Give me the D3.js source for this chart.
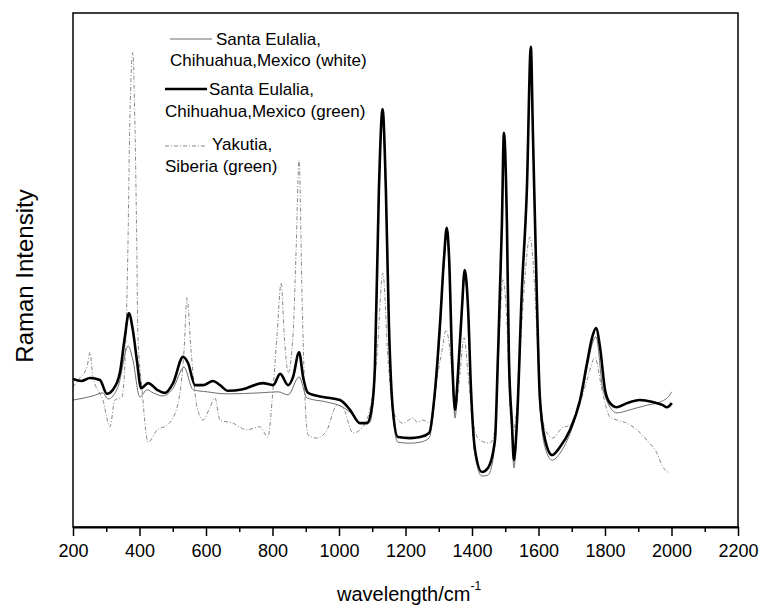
<!DOCTYPE html>
<html>
<head>
<meta charset="utf-8">
<script src="https://cdn.jsdelivr.net/npm/d3@7"></script>
<style>
  body { margin: 0; background: #fff; }
  text { font-family: Arial, "Liberation Sans", sans-serif; fill: #000; }
</style>
</head>
<body>
<div id="wrapper"></div>
<script>
// wavenumber (cm-1), Raman intensity (arbitrary units)
const whiteSpectrum = [
  [200, 247], [260, 255], [290, 261], [305, 249], [335, 272], [366, 352], [380, 325],
  [401, 253], [423, 267], [441, 261], [471, 255], [501, 270], [534, 311], [561, 267],
  [603, 263], [663, 259], [762, 261], [817, 263], [847, 257], [880, 292], [904, 251],
  [964, 243], [1012, 233], [1042, 218], [1063, 202], [1093, 204], [1108, 305],
  [1120, 640], [1131, 803], [1141, 640], [1150, 383], [1162, 218], [1177, 165],
  [1214, 163], [1244, 165], [1271, 173], [1289, 257], [1304, 383], [1316, 516],
  [1324, 570], [1331, 516], [1340, 321], [1349, 212], [1358, 290], [1370, 418],
  [1378, 488], [1388, 418], [1397, 257], [1409, 140], [1430, 99], [1448, 101],
  [1469, 160], [1478, 321], [1490, 578], [1496, 753], [1505, 578], [1511, 321],
  [1520, 193], [1526, 115], [1535, 193], [1550, 451], [1565, 646], [1577, 922],
  [1583, 763], [1595, 438], [1604, 243], [1620, 154], [1641, 130], [1665, 144],
  [1699, 189], [1728, 253], [1773, 370], [1794, 267], [1836, 222], [1875, 228],
  [1926, 237], [1965, 243], [1995, 257], [2000, 263]
]

const greenSpectrum = [
  [200, 288], [225, 284], [251, 290], [281, 286], [302, 259], [320, 267], [341, 300],
  [356, 370], [368, 416], [380, 383], [392, 325], [405, 270], [426, 280], [453, 267],
  [477, 261], [501, 280], [531, 331], [546, 319], [567, 276], [591, 276], [621, 284],
  [642, 276], [666, 265], [711, 268], [771, 280], [802, 276], [823, 298], [847, 276],
  [862, 292], [880, 340], [892, 292], [907, 261], [952, 253], [1003, 247], [1033, 228],
  [1063, 202], [1084, 202], [1099, 233], [1108, 311], [1120, 656], [1131, 813],
  [1141, 656], [1150, 397], [1162, 228], [1177, 175], [1214, 173], [1244, 175],
  [1271, 183], [1289, 267], [1304, 397], [1316, 525], [1324, 582], [1331, 525],
  [1340, 331], [1349, 228], [1358, 300], [1370, 428], [1378, 500], [1388, 428],
  [1397, 267], [1409, 150], [1430, 107], [1448, 115], [1469, 169], [1478, 331],
  [1490, 591], [1496, 767], [1505, 591], [1511, 331], [1520, 202], [1526, 130],
  [1535, 202], [1550, 461], [1565, 656], [1577, 934], [1583, 772], [1595, 447],
  [1604, 253], [1620, 169], [1641, 140], [1665, 156], [1695, 189], [1725, 247],
  [1746, 319], [1761, 368], [1773, 387], [1785, 350], [1800, 267], [1815, 241],
  [1836, 233], [1866, 241], [1905, 247], [1944, 243], [1974, 237], [1986, 233],
  [2001, 241]
]

const yakutiaSpectrum = [
  [200, 272], [215, 286], [242, 311], [251, 340], [260, 292], [290, 247], [311, 195],
  [326, 247], [347, 253], [359, 364], [365, 539], [371, 792], [380, 924], [386, 792],
  [392, 539], [395, 377], [407, 272], [426, 165], [453, 189], [483, 198], [513, 233],
  [534, 344], [543, 446], [555, 344], [573, 233], [591, 208], [612, 233], [627, 251],
  [642, 208], [681, 202], [723, 189], [762, 195], [786, 175], [802, 272], [814, 377],
  [826, 475], [835, 377], [847, 300], [862, 377], [871, 539], [880, 714], [889, 442],
  [898, 247], [907, 179], [934, 173], [964, 189], [994, 237], [1012, 232], [1042, 183],
  [1072, 195], [1102, 261], [1114, 331], [1132, 494], [1147, 331], [1162, 228],
  [1174, 212], [1192, 202], [1223, 212], [1235, 204], [1253, 208], [1274, 202],
  [1289, 267], [1310, 344], [1322, 383], [1340, 300], [1349, 222], [1364, 300],
  [1376, 368], [1388, 300], [1403, 202], [1424, 169], [1454, 163], [1469, 189],
  [1484, 397], [1493, 481], [1505, 397], [1514, 233], [1523, 183], [1535, 233],
  [1553, 428], [1574, 564], [1589, 461], [1597, 350], [1604, 250], [1625, 183],
  [1643, 173], [1671, 193], [1695, 198], [1716, 222], [1746, 286], [1770, 329],
  [1791, 267], [1815, 214], [1836, 208], [1866, 202], [1896, 189], [1926, 169],
  [1956, 144], [1974, 117], [1995, 105]
]

const xTicks = [200, 400, 600, 800, 1000, 1200, 1400, 1600, 1800, 2000, 2200]
const xMinorTicks = [300, 500, 700, 900, 1100, 1300, 1500, 1700, 1900, 2100]

const legendItems = [
  { lines: ["Santa Eulalia,", "Chihuahua,Mexico (white)"], data: whiteSpectrum },
  { lines: ["Santa Eulalia,", "Chihuahua,Mexico (green)"], data: greenSpectrum },
  { lines: ["Yakutia,", "Siberia (green)"], data: yakutiaSpectrum }
]

// dimensions
let dimensions = {
  width: 759,
  height: 606,
  margin: { top: 13, right: 21, bottom: 79, left: 73 }
}
dimensions.boundedWidth = dimensions.width - dimensions.margin.left - dimensions.margin.right
dimensions.boundedHeight = dimensions.height - dimensions.margin.top - dimensions.margin.bottom

const wrapper = d3.select("#wrapper")
  .append("svg")
  .attr("width", dimensions.width)
  .attr("height", dimensions.height)

const bounds = wrapper.append("g")
  .attr("transform", `translate(${dimensions.margin.left},${dimensions.margin.top})`)

// scales
const xScale = d3.scaleLinear()
  .domain([200, 2200])
  .range([0, dimensions.boundedWidth])

const yScale = d3.scaleLinear()
  .domain([0, 1000])
  .range([dimensions.boundedHeight, 0])

bounds.append("clipPath").attr("id", "clip")
  .append("rect")
  .attr("width", dimensions.boundedWidth)
  .attr("height", dimensions.boundedHeight)

const lineGenerator = d3.line()
  .x(d => xScale(d[0]))
  .y(d => yScale(d[1]))
  .curve(d3.curveMonotoneX)

const styles = [
  { stroke: "#6e6e6e", width: 1, dash: null },
  { stroke: "#000", width: 2.6, dash: null },
  { stroke: "#888", width: 1, dash: "4,2,1,2" }
]

const lines = bounds.append("g").attr("clip-path", "url(#clip)")
// draw thin ones under the thick one
;[2, 0, 1].forEach(i => {
  lines.append("path")
    .attr("d", lineGenerator(legendItems[i].data))
    .attr("fill", "none")
    .attr("stroke", styles[i].stroke)
    .attr("stroke-width", styles[i].width)
    .attr("stroke-dasharray", styles[i].dash)
    .attr("stroke-linejoin", "round")
})

// frame
bounds.append("rect")
  .attr("width", dimensions.boundedWidth)
  .attr("height", dimensions.boundedHeight)
  .attr("fill", "none")
  .attr("stroke", "#000")
  .attr("stroke-width", 1.5)

// x axis
const xAxisGen = d3.axisBottom(xScale)
  .tickValues(xTicks)
  .tickFormat(d3.format("d"))
  .tickSize(9)
  .tickSizeOuter(0)
  .tickPadding(8)

const xAxis = bounds.append("g")
  .attr("transform", `translate(0,${dimensions.boundedHeight})`)
  .call(xAxisGen)
xAxis.select(".domain").attr("stroke-width", 2.2)
xAxis.selectAll(".tick line").attr("stroke-width", 1.5)
xAxis.selectAll(".tick text")
  .attr("font-size", 18)
  .attr("font-family", "Arial, 'Liberation Sans', sans-serif")

const xMinorAxis = bounds.append("g")
  .attr("transform", `translate(0,${dimensions.boundedHeight})`)
  .call(d3.axisBottom(xScale).tickValues(xMinorTicks).tickFormat("").tickSize(5).tickSizeOuter(0))
xMinorAxis.select(".domain").remove()
xMinorAxis.selectAll(".tick line").attr("stroke-width", 1.5)

// axis titles
const xTitle = wrapper.append("text")
  .attr("x", 337)
  .attr("y", 601)
  .attr("font-size", 20)
xTitle.append("tspan").text("wavelength/cm")
xTitle.append("tspan").attr("font-size", 12).attr("dy", -11).text("-1")

wrapper.append("text")
  .attr("transform", "translate(33,276) rotate(-90)")
  .attr("text-anchor", "middle")
  .attr("font-size", 24)
  .text("Raman Intensity")

// legend
const legendLayout = [
  { x1: 170, x2: 212, y: 39, tx: 216, base: [45, 66], x0: 170 },
  { x1: 165, x2: 207, y: 89, tx: 209, base: [95, 117], x0: 165 },
  { x1: 165, x2: 205, y: 146, tx: 212, base: [150, 172], x0: 165 }
]
const legend = wrapper.append("g")
legendItems.forEach((item, i) => {
  const l = legendLayout[i]
  legend.append("line")
    .attr("x1", l.x1).attr("x2", l.x2)
    .attr("y1", l.y).attr("y2", l.y)
    .attr("stroke", styles[i].stroke)
    .attr("stroke-width", styles[i].width)
    .attr("stroke-dasharray", styles[i].dash)
  legend.append("text")
    .attr("x", l.tx).attr("y", l.base[0])
    .attr("font-size", 17)
    .text(item.lines[0])
  legend.append("text")
    .attr("x", l.x0).attr("y", l.base[1])
    .attr("font-size", 17)
    .text(item.lines[1])
})
</script>
</body>
</html>
